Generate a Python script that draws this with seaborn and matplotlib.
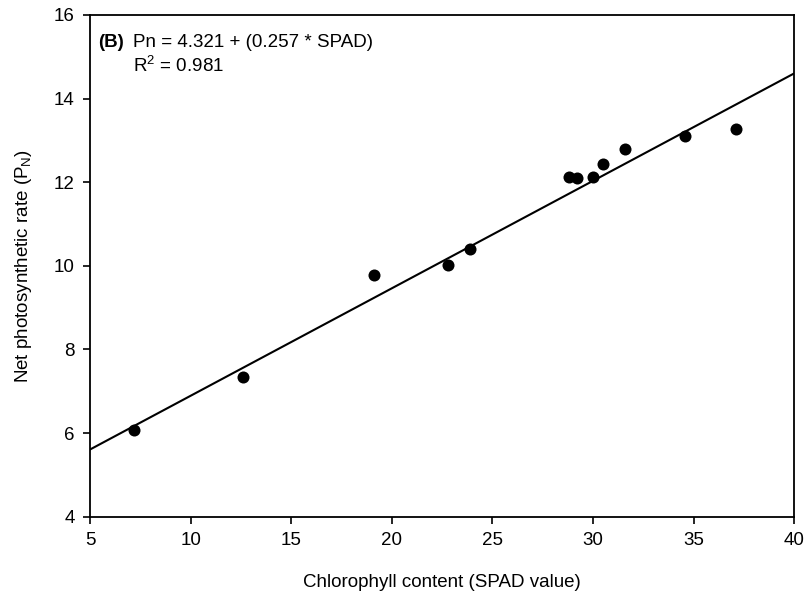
import matplotlib

matplotlib.use("Agg")
import matplotlib.pyplot as plt
import numpy as np
import pandas as pd
import seaborn as sns

# Data
spad = [7.2, 12.6, 19.1, 22.8, 23.9, 28.8, 29.2, 30.0, 30.5, 31.6, 34.6, 37.1]
pn = [6.07, 7.33, 9.78, 10.02, 10.40, 12.12, 12.11, 12.12, 12.44, 12.80, 13.11, 13.27]

# Fitted line as printed on the chart
intercept = 4.321
slope = 0.257
r_squared = 0.981

x_ticks = [5, 10, 15, 20, 25, 30, 35, 40]
y_ticks = [4, 6, 8, 10, 12, 14, 16]

df = pd.DataFrame({"spad": spad, "pn": pn})

sns.set_style("ticks")
plt.rcParams["font.family"] = ["Liberation Sans", "DejaVu Sans"]
plt.rcParams["mathtext.fontset"] = "custom"
plt.rcParams["mathtext.rm"] = "Liberation Sans"
plt.rcParams["text.color"] = "black"
plt.rcParams["axes.labelcolor"] = "black"
plt.rcParams["xtick.color"] = "black"
plt.rcParams["ytick.color"] = "black"

fig, ax = plt.subplots(figsize=(8.07, 5.98), dpi=100)
fig.subplots_adjust(left=0.1115, right=0.984, top=0.975, bottom=0.136)

# regression line across the whole x range
line_x = np.array([x_ticks[0], x_ticks[-1]])
ax.plot(line_x, intercept + slope * line_x, color="black", linewidth=1.5, zorder=2)

sns.scatterplot(
    data=df, x="spad", y="pn", ax=ax, color="black", s=75, edgecolor="black",
    linewidth=0, zorder=3,
)

ax.set_xlim(x_ticks[0], x_ticks[-1])
ax.set_ylim(y_ticks[0], y_ticks[-1])
ax.set_xticks(x_ticks)
ax.set_yticks(y_ticks)
ax.tick_params(labelsize=13.5, length=5, width=1.2, pad=6)
for spine in ax.spines.values():
    spine.set_linewidth(1.3)
    spine.set_color("black")

ax.set_xlabel("Chlorophyll content (SPAD value)", fontsize=13.5, labelpad=18)
ax.set_ylabel("Net photosynthetic rate (P$_\\mathregular{N}$)", fontsize=13.5, labelpad=14)

ax.text(0.012, 0.962, "(B)", transform=ax.transAxes, fontsize=13.5,
        fontweight="bold", va="top", ha="left")
ax.text(0.061, 0.962,
        f"Pn = {intercept} + ({slope} * SPAD)\nR$^\\mathregular{{2}}$ = {r_squared}",
        transform=ax.transAxes, fontsize=13.5, va="top", ha="left", linespacing=1.25)

fig.savefig("out.png", dpi=100)
